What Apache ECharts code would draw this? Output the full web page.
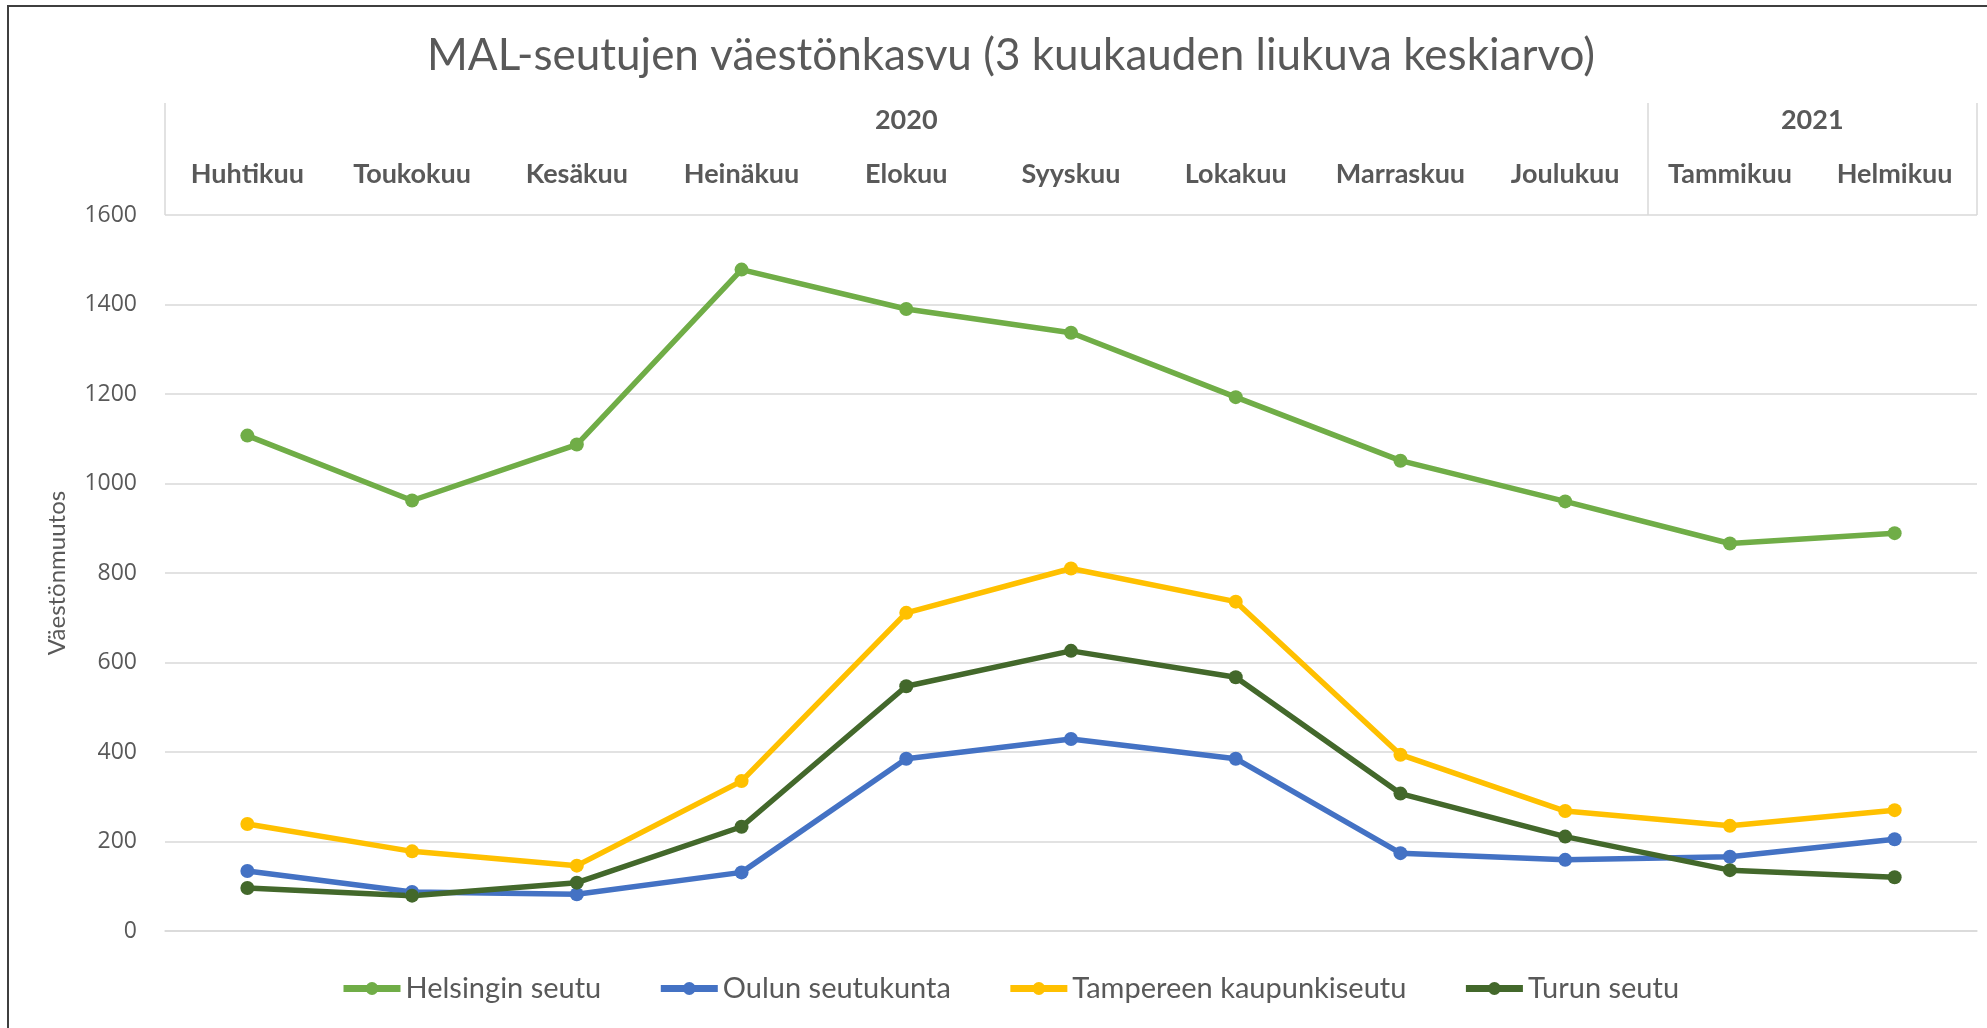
<!DOCTYPE html>
<html>
<head>
<meta charset="utf-8">
<script src="https://cdn.jsdelivr.net/npm/echarts@6/dist/echarts.min.js"></script>
<style>
html,body{margin:0;padding:0;background:#fff;}
#chart{position:absolute;left:0;top:0;width:1987px;height:1028px;}
#frame{position:absolute;left:7px;top:5px;width:2000px;height:1100px;border-left:2px solid #3f3f3f;border-top:2px solid #3f3f3f;pointer-events:none;}
</style>
</head>
<body>
<div id="chart"></div>
<div id="frame"></div>
<script>
// ---- data ----
const months = ['Huhtikuu','Toukokuu','Kesäkuu','Heinäkuu','Elokuu','Syyskuu','Lokakuu','Marraskuu','Joulukuu','Tammikuu','Helmikuu'];
const years = ['2020','2021'];
const monthsPerYear = [9, 2];
const helsinki = [1107, 962, 1087, 1478, 1390, 1337, 1193, 1051, 960, 866, 889];
const oulu     = [134, 87, 82, 131, 385, 429, 385, 174, 159, 166, 205];
const tampere  = [239, 178, 146, 335, 711, 810, 736, 394, 268, 235, 270];
const turku    = [96, 79, 108, 233, 547, 626, 567, 307, 211, 136, 120];
const seriesNames = ['Helsingin seutu','Oulun seutukunta','Tampereen kaupunkiseutu','Turun seutu'];
const yTicks = [0, 200, 400, 600, 800, 1000, 1200, 1400, 1600];

// year axis built on half-month grid
const nHalf = months.length * 2;
const yearAxisData = new Array(nHalf + 1).fill('');
const yearBounds = [0];
let acc = 0;
years.forEach((y, i) => {
  yearAxisData[acc * 2 + monthsPerYear[i]] = y;
  acc += monthsPerYear[i];
  yearBounds.push(acc * 2);
});

const chart = echarts.init(document.getElementById('chart'), null, {renderer: 'canvas'});
const txt = '#595959';
const grid = '#d9d9d9';
const colors = ['#70AD47', '#4472C4', '#FFC000', '#43682B'];
const dataSets = [helsinki, oulu, tampere, turku];

chart.setOption({
  animation: false,
  color: colors,
  title: {
    text: 'MAL-seutujen väestönkasvu (3 kuukauden liukuva keskiarvo)',
    left: 422,
    top: 29,
    textStyle: {fontFamily: 'Lato', fontSize: 44, fontWeight: 'normal', color: txt}
  },
  legend: {
    bottom: 20,
    left: 335,
    itemWidth: 57,
    itemHeight: 16,
    itemGap: 56,
    lineStyle: {width: 7},
    textStyle: {fontFamily: 'Lato', fontSize: 29, color: txt},
    data: seriesNames
  },
  grid: {left: 165, right: 10, top: 215, bottom: 97, containLabel: false},
  xAxis: [
    {
      type: 'category',
      position: 'top',
      data: months,
      boundaryGap: true,
      axisLine: {show: true, lineStyle: {color: grid, width: 1.5}},
      axisTick: {show: false},
      axisLabel: {margin: 27, fontFamily: 'Lato', fontSize: 27, fontWeight: 'bold', color: txt, interval: 0}
    },
    {
      type: 'category',
      position: 'top',
      data: yearAxisData,
      boundaryGap: false,
      axisLine: {show: false},
      axisTick: {show: true, length: 112, inside: false,
        interval: (idx) => yearBounds.indexOf(idx) >= 0,
        lineStyle: {color: grid, width: 1.5}},
      axisLabel: {margin: 81, fontFamily: 'Lato', fontSize: 27, fontWeight: 'bold', color: txt, interval: 0},
      splitLine: {show: false}
    }
  ],
  yAxis: {
    type: 'value',
    min: 0,
    max: 1600,
    interval: 200,
    name: 'Väestönmuutos',
    nameLocation: 'middle',
    nameRotate: 90,
    nameGap: 96,
    nameTextStyle: {fontFamily: 'Lato', fontSize: 24, color: txt},
    axisLine: {show: false},
    axisTick: {show: false},
    axisLabel: {margin: 28, fontFamily: 'Open Sans', fontSize: 23, color: txt,
      formatter: (v) => yTicks.indexOf(v) >= 0 ? String(v) : ''},
    splitLine: {lineStyle: {color: grid, width: 1.5}}
  },
  series: seriesNames.map((name, i) => ({
    name: name,
    type: 'line',
    xAxisIndex: 0,
    data: dataSets[i],
    symbol: 'circle',
    symbolSize: 14,
    lineStyle: {width: 5.5, color: colors[i]},
    itemStyle: {color: colors[i]},
    emphasis: {disabled: true}
  }))
});
</script>
</body>
</html>
